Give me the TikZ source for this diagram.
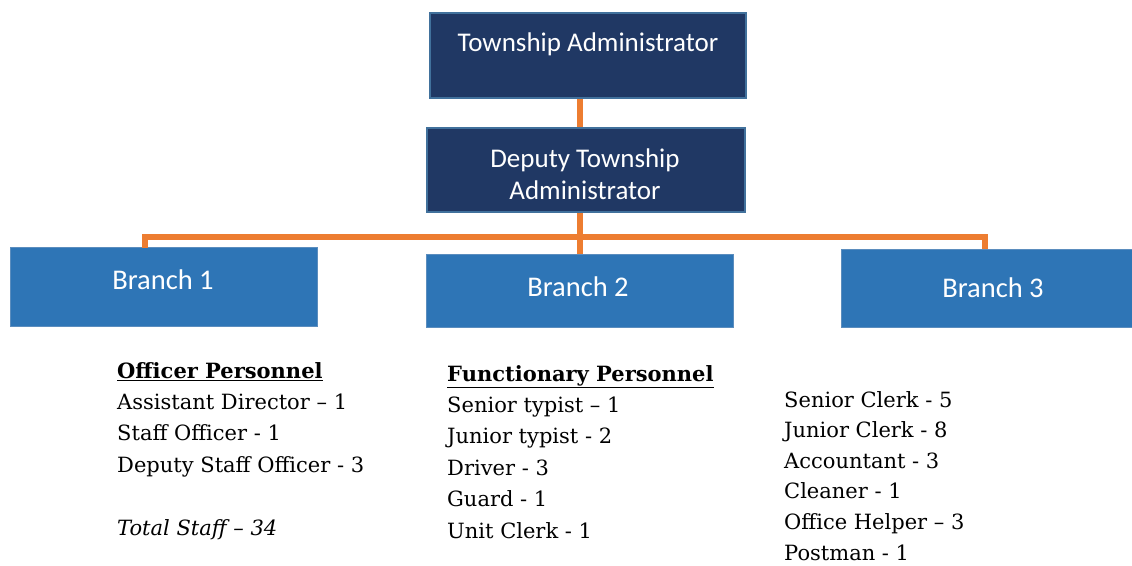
\documentclass[tikz,border=0pt]{standalone}
\usepackage{fontspec}
\setmainfont{DejaVu Serif}
\newfontfamily\boxfont{Carlito}
\definecolor{navy}{HTML}{203864}
\definecolor{navyline}{HTML}{41719C}
\definecolor{branchblue}{HTML}{2E75B6}
\definecolor{branchline}{HTML}{5B8DBE}
\definecolor{conncol}{HTML}{ED7D31}
\tikzset{
  topbox/.style={draw=navyline, line width=1.5pt, fill=navy, text=white, font=\boxfont\fontsize{27}{32}\selectfont, align=center, inner sep=0pt},
  branchbox/.style={draw=branchline, line width=1pt, fill=branchblue, text=white, font=\boxfont\fontsize{28.5}{32}\selectfont, align=center, inner sep=0pt},
  conn/.style={draw=conncol, line width=6pt},
  listnode/.style={anchor=north west, align=left, inner sep=0pt, font=\fontsize{21}{31.4}\selectfont}
}
\newcommand{\ulhead}[1]{\underline{\smash{\textbf{#1}}\vphantom{x}}}
\begin{document}
\begin{tikzpicture}[x=1pt,y=-1pt]
\useasboundingbox (0,0) rectangle (1132,565);
\coordinate (bar) at (580,237);
% boxes
\node[topbox, minimum width=316pt, minimum height=85pt] (ta) at (588,55.5) {};
\node[topbox, minimum width=318pt, minimum height=84pt] (dta) at (586,170) {};
\node[branchbox, minimum width=307pt, minimum height=79pt] (b1) at (163.5,286.5) {};
\node[branchbox, minimum width=307pt, minimum height=73pt] (b2) at (579.5,290.5) {};
\node[branchbox, minimum width=291pt, minimum height=78pt] (b3) at (986.5,288) {};
% connectors
\draw[conn] (ta.south -| bar) -- (dta.north -| bar);
\draw[conn] (dta.south -| bar) -- (b2.north -| bar);
\draw[conn] (145,248) |- (bar) -| (985,249);
% box texts
\node[topbox, draw=none, fill=none] (tat) at (588,44) {Township Administrator};
\node[topbox, draw=none, fill=none] (dtat) at (585,174) {Deputy Township\\Administrator};
\node[branchbox, draw=none, fill=none] (b1t) at (163,280) {Branch 1};
\node[branchbox, draw=none, fill=none] (b2t) at (578,287) {Branch 2};
\node[branchbox, draw=none, fill=none] (b3t) at (993,288) {Branch 3};
% lists
\node[listnode] (l1) at (117,362) {\underline{\textbf{Officer Personnel}}\\Assistant Director -- 1\\Staff Officer - 1\\Deputy Staff Officer - 3\\[31.4pt]\textit{Total Staff -- 34}};
\node[listnode] (l2) at (447,365) {\underline{\textbf{Functionary Personnel}}\\Senior typist -- 1\\Junior typist - 2\\Driver - 3\\Guard - 1\\Unit Clerk - 1};
\node[listnode, font=\fontsize{21}{30.6}\selectfont] (l3) at (784,391) {Senior Clerk - 5\\Junior Clerk - 8\\Accountant - 3\\Cleaner - 1\\Office Helper -- 3\\Postman - 1};
\end{tikzpicture}
\end{document}
